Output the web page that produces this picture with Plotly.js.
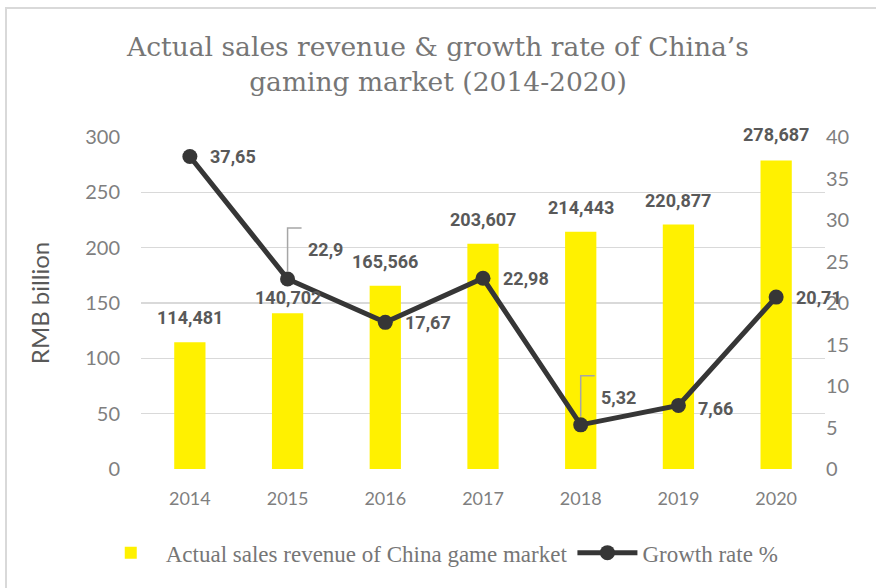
<!DOCTYPE html>
<html>
<head>
<meta charset="utf-8">
<script src="https://cdn.plot.ly/plotly-3.0.1.min.js"></script>
<style>
html,body{margin:0;padding:0;background:#fff;}
#frame{position:absolute;left:5px;top:7px;width:900px;height:620px;border:2px solid #d9d9d9;box-sizing:border-box;}
#chart{position:absolute;left:0;top:0;width:876px;height:588px;}
</style>
</head>
<body>
<div id="frame"></div>
<div id="chart"></div>
<script>
const years = [2014, 2015, 2016, 2017, 2018, 2019, 2020];
const revenue = [114.481, 140.702, 165.566, 203.607, 214.443, 220.877, 278.687];
const growth = [37.65, 22.9, 17.67, 22.98, 5.32, 7.66, 20.71];
const growthLabelShift = [0, 29, 0, 0, 27, -3, 0];
const revenueLabelShift = [12, 3, 12, 12, 12, 12, 14];
const leaderIdx = [1, 4];

const fmt = (v, d) => v.toFixed(d).replace('.', ',');
const fmtG = v => String(v).replace('.', ',');

const labelFont = {family: "Roboto, sans-serif", size: 18, color: '#595959', weight: 'bold'};
const serif = "'DejaVu Serif', serif";
const sans = "Lato, 'Open Sans', sans-serif";

const traces = [
  {type: 'bar', x: years, y: revenue, name: 'Actual sales revenue of China game market',
   marker: {color: '#FFF100'}, width: 0.32, hoverinfo: 'skip'},
  {type: 'scatter', mode: 'lines+markers', x: years, y: growth, yaxis: 'y2', name: 'Growth rate %',
   line: {color: '#363636', width: 5}, marker: {color: '#363636', size: 15}, hoverinfo: 'skip'}
];

const annotations = [];
years.forEach((yr, i) => {
  annotations.push({x: yr, y: revenue[i], xref: 'x', yref: 'y', text: fmt(revenue[i], 3),
    showarrow: false, yanchor: 'bottom', yshift: revenueLabelShift[i], font: labelFont});
  annotations.push({x: yr, y: growth[i], xref: 'x', yref: 'y2', text: fmtG(growth[i]),
    showarrow: false, xanchor: 'left', xshift: 18, yshift: growthLabelShift[i], font: labelFont});
});

const shapes = leaderIdx.map(i => ({
  type: 'path', xref: 'x', yref: 'y2', xsizemode: 'pixel', ysizemode: 'pixel',
  xanchor: years[i], yanchor: growth[i],
  path: 'M 0 8 L 0 ' + (growthLabelShift[i] + 22) + ' L 14 ' + (growthLabelShift[i] + 22),
  line: {color: '#a6a6a6', width: 1.5}, layer: 'above'
}));

const layout = {
  width: 876, height: 588,
  margin: {l: 141, r: 51, t: 137, b: 119},
  paper_bgcolor: 'rgba(0,0,0,0)', plot_bgcolor: 'rgba(0,0,0,0)',
  title: {text: 'Actual sales revenue &amp; growth rate of China’s<br>gaming market (2014-2020)',
    font: {family: serif, size: 26.5, color: '#767676'}, x: 0.5, xanchor: 'center', y: 0.904, yanchor: 'top'},
  showlegend: true,
  legend: {orientation: 'h', xref: 'container', yref: 'container', x: 0.502, xanchor: 'center',
    y: 0.06, yanchor: 'middle',
    font: {family: "'Liberation Serif', serif", size: 23, color: '#767676'}, itemwidth: 60},
  xaxis: {range: [2013.5, 2020.5], tickvals: years, ticktext: years.map(String),
    showgrid: false, zeroline: false, showline: false, ticks: '', automargin: false,
    tickfont: {family: sans, size: 18, color: '#7f7f7f'}, ticklabelstandoff: 17},
  yaxis: {range: [0, 300], dtick: 50, showgrid: true, gridcolor: '#d9d9d9', gridwidth: 1.5,
    zeroline: false, showline: false, ticks: '', automargin: false,
    tickfont: {family: sans, size: 20, color: '#7f7f7f'}, ticklabelstandoff: 20,
    title: {text: 'RMB billion', font: {family: sans, size: 24, color: '#595959'}, standoff: 28}},
  yaxis2: {range: [0, 40], dtick: 5, overlaying: 'y', side: 'right', showgrid: false,
    zeroline: false, showline: false, ticks: '', automargin: false,
    tickfont: {family: sans, size: 20, color: '#7f7f7f'}, ticklabelstandoff: 0},
  annotations: annotations,
  shapes: shapes
};

Plotly.newPlot('chart', traces, layout, {staticPlot: true, displayModeBar: false});
</script>
</body>
</html>
